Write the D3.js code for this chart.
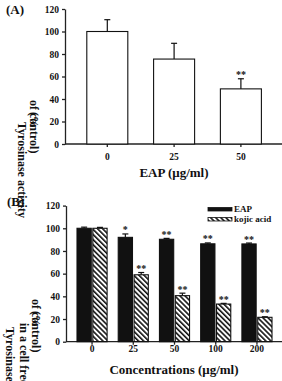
<!DOCTYPE html>
<meta charset="utf-8">
<style>
body { margin: 0; background: #fff; }
text { font-family: "Liberation Serif", "Times New Roman", serif; font-weight: bold; fill: #111; }
.axis path, .axis line { stroke: #222; stroke-width: 1.3; }
.axis text { font-size: 9.5px; font-family: "Liberation Serif", serif; font-weight: bold; }
</style>
<body>
<script src="https://cdnjs.cloudflare.com/ajax/libs/d3/7.8.5/d3.min.js"></script>
<script>

// panel A
var doseA = ["0", "25", "50"];
var actA = [100, 75.5, 49];
var errA = [10.5, 14, 9];
var sigA = ["", "", "**"];

// panel B
var concB = ["0", "25", "50", "100", "200"];
var eapB = [100, 92, 90.3, 86.3, 86.2];
var eapErr = [1, 3, 0.8, 0.8, 0.8];
var kojicB = [100, 59, 40.6, 33.2, 21.5];
var kojicErr = [0.8, 2, 2.2, 0.6, 0.5];
var eapSig = ["", "*", "**", "**", "**"];
var kojicSig = ["", "**", "**", "**", "**"];
var seriesB = ["EAP", "kojic acid"];
var yTicks = [0, 20, 40, 60, 80, 100, 120];

var w = 282, h = 381;

var svg = d3.select("body").append("svg")
	.attr("width", w)
	.attr("height", h);

var defs = svg.append("defs");
defs.append("pattern")
	.attr("id", "hatch")
	.attr("patternUnits", "userSpaceOnUse")
	.attr("width", 3.6)
	.attr("height", 3.6)
	.attr("patternTransform", "rotate(-45)")
	.append("rect")
	.attr("x", 0).attr("y", 0)
	.attr("width", 1.6).attr("height", 3.6)
	.attr("fill", "#111");

// vertical text reading top to bottom
function sideText(x, y, str, size) {
	return svg.append("text")
		.attr("transform", "translate(" + x + "," + y + ") rotate(90)")
		.style("font-size", (size || 12) + "px")
		.text(str);
}

// ---------- A ----------
var yA = d3.scaleLinear().domain([0, 120]).range([144, 9]);
var xA = d3.scaleBand().domain(doseA).range([86.8, 261.4]).paddingInner(0.386).paddingOuter(0);

svg.append("g").attr("class", "axis")
	.attr("transform", "translate(65,0)")
	.call(d3.axisLeft(yA).tickValues(yTicks).tickSize(3).tickSizeOuter(0).tickPadding(3));

var gxA = svg.append("g").attr("class", "axis")
	.attr("transform", "translate(0,144)")
	.call(d3.axisBottom(xA).tickSize(3).tickSizeOuter(0).tickPadding(6));
gxA.select(".domain").remove();
gxA.append("line").attr("x1", 65).attr("x2", 282).attr("stroke", "#222").attr("stroke-width", 1.3);

var barsA = svg.append("g");
barsA.selectAll("line.err").data(doseA).enter().append("line")
	.attr("x1", function(d) { return xA(d) + xA.bandwidth() / 2; })
	.attr("x2", function(d) { return xA(d) + xA.bandwidth() / 2; })
	.attr("y1", function(d, i) { return yA(actA[i]); })
	.attr("y2", function(d, i) { return yA(actA[i] + errA[i]); })
	.attr("stroke", "#111").attr("stroke-width", 1.2);
barsA.selectAll("line.cap").data(doseA).enter().append("line")
	.attr("x1", function(d) { return xA(d) + xA.bandwidth() / 2 - 3; })
	.attr("x2", function(d) { return xA(d) + xA.bandwidth() / 2 + 3; })
	.attr("y1", function(d, i) { return yA(actA[i] + errA[i]); })
	.attr("y2", function(d, i) { return yA(actA[i] + errA[i]); })
	.attr("stroke", "#111").attr("stroke-width", 1.2);
barsA.selectAll("rect").data(doseA).enter().append("rect")
	.attr("x", function(d) { return xA(d); })
	.attr("y", function(d, i) { return yA(actA[i]); })
	.attr("width", xA.bandwidth())
	.attr("height", function(d, i) { return yA(0) - yA(actA[i]); })
	.attr("fill", "#fff").attr("stroke", "#111").attr("stroke-width", 1.1);
barsA.selectAll("text").data(doseA).enter().append("text")
	.attr("x", function(d) { return xA(d) + xA.bandwidth() / 2; })
	.attr("y", function(d, i) { return yA(actA[i] + errA[i]) - 0.5; })
	.attr("text-anchor", "middle")
	.style("font-size", "10px")
	.text(function(d, i) { return sigA[i]; });

svg.append("text").attr("x", 174).attr("y", 177).attr("text-anchor", "middle")
	.style("font-size", "13px").text("EAP (\u03bcg/ml)");
svg.append("text").attr("x", 6).attr("y", 14).style("font-size", "13px").text("(A)");

sideText(18, 122, "Tyrosinase activity");
sideText(30, 100, "of control)");
sideText(30, 112, "(%");

// ---------- B ----------
var yB = d3.scaleLinear().domain([0, 120]).range([341.7, 205.6]);
var xB = d3.scaleBand().domain(concB).range([77, 272]).paddingInner(0.27).paddingOuter(0);
var xS = d3.scaleBand().domain(seriesB).range([0, xB.bandwidth()]).paddingInner(0.1);

svg.append("g").attr("class", "axis")
	.attr("transform", "translate(66,0)")
	.call(d3.axisLeft(yB).tickValues(yTicks).tickSize(3).tickSizeOuter(0).tickPadding(3));

var gxB = svg.append("g").attr("class", "axis")
	.attr("transform", "translate(0,341.7)")
	.call(d3.axisBottom(xB).tickSize(3).tickSizeOuter(0).tickPadding(1));
gxB.select(".domain").remove();
gxB.append("line").attr("x1", 66).attr("x2", 282).attr("stroke", "#222").attr("stroke-width", 1.3);

var tableB = [];
concB.forEach(function(c, i) {
	tableB.push({c: c, s: seriesB[0], v: eapB[i], e: eapErr[i], sig: eapSig[i]});
	tableB.push({c: c, s: seriesB[1], v: kojicB[i], e: kojicErr[i], sig: kojicSig[i]});
});
function cx(d) { return xB(d.c) + xS(d.s) + xS.bandwidth() / 2; }

var barsB = svg.append("g");
barsB.selectAll("line.err").data(tableB).enter().append("line")
	.attr("x1", cx).attr("x2", cx)
	.attr("y1", function(d) { return yB(d.v); })
	.attr("y2", function(d) { return yB(d.v + d.e); })
	.attr("stroke", "#111").attr("stroke-width", 1.2);
barsB.selectAll("line.cap").data(tableB).enter().append("line")
	.attr("x1", function(d) { return cx(d) - 3; })
	.attr("x2", function(d) { return cx(d) + 3; })
	.attr("y1", function(d) { return yB(d.v + d.e); })
	.attr("y2", function(d) { return yB(d.v + d.e); })
	.attr("stroke", "#111").attr("stroke-width", 1.2);
barsB.selectAll("rect").data(tableB).enter().append("rect")
	.attr("x", function(d) { return xB(d.c) + xS(d.s); })
	.attr("y", function(d) { return yB(d.v); })
	.attr("width", xS.bandwidth())
	.attr("height", function(d) { return yB(0) - yB(d.v); })
	.attr("fill", function(d) { return d.s == "EAP" ? "#111" : "url(#hatch)"; })
	.attr("stroke", "#111").attr("stroke-width", 1.1);
barsB.selectAll("text").data(tableB).enter().append("text")
	.attr("x", cx)
	.attr("y", function(d) { return yB(d.v + d.e) - 0.5; })
	.attr("text-anchor", "middle")
	.style("font-size", "10px")
	.text(function(d) { return d.sig; });

// legend
var leg = svg.append("g").attr("transform", "translate(208,206)");
leg.selectAll("rect").data(seriesB).enter().append("rect")
	.attr("x", 0).attr("y", function(d, i) { return 1.5 + i * 10; })
	.attr("width", 24).attr("height", 3.5)
	.attr("fill", function(d, i) { return i == 0 ? "#111" : "url(#hatch)"; })
	.attr("stroke", "#111").attr("stroke-width", 0.8);
leg.selectAll("text").data(seriesB).enter().append("text")
	.attr("x", 26).attr("y", function(d, i) { return 6 + i * 10; })
	.style("font-size", "9px")
	.text(function(d) { return d; });

svg.append("text").attr("x", 174).attr("y", 374).attr("text-anchor", "middle")
	.style("font-size", "13px").text("Concentrations (\u03bcg/ml)");
svg.append("text").attr("x", 7).attr("y", 206).style("font-size", "13px").text("(B)");

sideText(6, 327, "Tyrosinase activity");
sideText(20, 323, "in a cell free system");
sideText(32, 299, "of control)");
sideText(32, 311, "(%");

</script>
</body>
